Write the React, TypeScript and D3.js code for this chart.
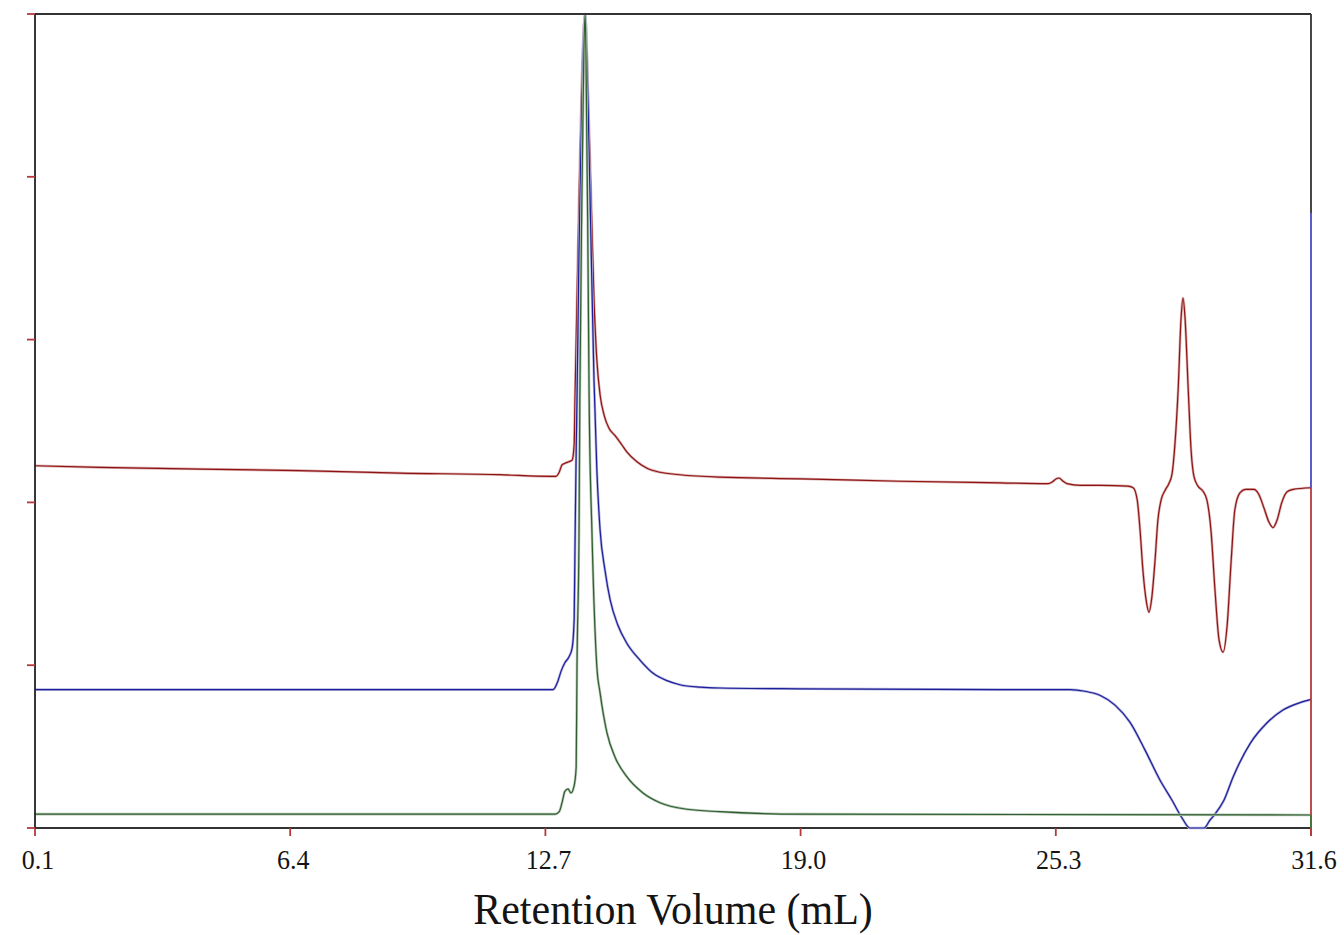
import React from "react";
import * as d3 from "d3";

// Retention volume ticks (mL)
const xTickValues = [0.1, 6.4, 12.7, 19.0, 25.3, 31.6];
const xTickLabels = ["0.1", "6.4", "12.7", "19.0", "25.3", "31.6"];
const yTickValues = [0, 20, 40, 60, 80, 100];

// Red trace (volume mL, signal)
const redVol = [0.10, 1.70, 4.17, 6.64, 9.11, 11.58, 12.81, 12.96, 13.04, 13.11, 13.18, 13.28, 13.36, 13.41, 13.43, 13.48, 13.53, 13.60, 13.68, 13.75, 13.83, 13.90, 13.97, 14.05, 14.15, 14.27, 14.42, 14.57, 14.71, 14.96, 15.21, 15.53, 16.02, 17.01, 18.99, 21.45, 23.92, 25.11, 25.21, 25.31, 25.38, 25.48, 25.58, 25.90, 26.39, 27.08, 27.21, 27.31, 27.38, 27.45, 27.53, 27.60, 27.67, 27.75, 27.82, 27.90, 28.00, 28.09, 28.17, 28.24, 28.32, 28.39, 28.44, 28.49, 28.57, 28.64, 28.71, 28.81, 28.93, 29.03, 29.13, 29.23, 29.33, 29.43, 29.53, 29.63, 29.72, 29.85, 29.99, 30.19, 30.31, 30.44, 30.56, 30.66, 30.76, 30.88, 31.01, 31.16, 31.60];
const redSig = [44.5, 44.3, 44.1, 43.9, 43.6, 43.4, 43.2, 43.2, 43.7, 44.6, 44.8, 45.0, 45.2, 47.1, 52.6, 64.9, 77.1, 91.9, 100, 90.7, 77.1, 64.9, 57.5, 53.2, 50.7, 49.1, 48.2, 47.2, 46.2, 45.0, 44.2, 43.7, 43.4, 43.1, 42.9, 42.6, 42.4, 42.3, 42.5, 42.9, 43.0, 42.6, 42.3, 42.1, 42.1, 42.0, 41.8, 40.3, 36.6, 31.7, 28.0, 26.5, 28.3, 32.9, 37.8, 40.3, 41.5, 42.3, 43.5, 47.1, 53.8, 62.4, 65.1, 62.7, 53.8, 46.4, 43.2, 42.0, 41.4, 40.3, 36.6, 29.2, 23.1, 21.6, 24.9, 32.9, 39.1, 41.2, 41.6, 41.6, 41.0, 39.3, 37.6, 36.9, 37.8, 40.0, 41.3, 41.6, 41.8];

// Blue trace
const blueVol = [0.10, 6.64, 12.89, 12.99, 13.09, 13.18, 13.28, 13.36, 13.41, 13.43, 13.46, 13.48, 13.53, 13.60, 13.68, 13.75, 13.83, 13.90, 13.97, 14.05, 14.17, 14.30, 14.49, 14.71, 15.04, 15.36, 15.70, 16.02, 16.52, 17.01, 18.99, 23.92, 25.65, 26.02, 26.39, 26.76, 27.13, 27.50, 27.87, 28.17, 28.42, 28.61, 28.79, 28.96, 29.11, 29.23, 29.45, 29.68, 30.10, 30.51, 30.91, 31.33, 31.60];
const blueSig = [17.0, 17.0, 17.0, 17.8, 19.3, 20.3, 21.0, 22.1, 25.6, 34.2, 46.4, 52.6, 71.0, 89.4, 100, 89.4, 71.0, 55.0, 44.0, 36.6, 31.7, 28.0, 24.9, 22.7, 20.6, 19.0, 18.1, 17.6, 17.3, 17.2, 17.1, 17.0, 17.0, 16.8, 16.3, 15.1, 13.0, 9.6, 5.9, 3.4, 1.2, -0.2, -0.7, -0.2, 1.0, 1.7, 3.4, 6.3, 10.4, 12.9, 14.5, 15.4, 15.8];

// Green trace
const greenVol = [0.10, 12.94, 13.04, 13.11, 13.18, 13.26, 13.33, 13.41, 13.46, 13.48, 13.53, 13.55, 13.60, 13.65, 13.68, 13.70, 13.75, 13.78, 13.85, 13.97, 14.05, 14.22, 14.42, 14.71, 15.11, 15.53, 16.20, 17.01, 18.99, 31.60];
const greenSig = [1.7, 1.7, 2.0, 3.1, 4.5, 4.8, 4.3, 5.2, 7.5, 19.8, 36.2, 52.6, 77.1, 95.6, 100, 95.6, 71.0, 52.6, 36.2, 19.8, 16.6, 11.7, 8.7, 6.3, 4.3, 3.1, 2.3, 2.0, 1.7, 1.6];

const W = 1344;
const H = 935;
const M = { left: 35, top: 14, right: 1311, bottom: 828 };

export default function App() {
  const x = d3.scaleLinear().domain([0.1, 31.6]).range([M.left, M.right]);
  const y = d3.scaleLinear().domain([0, 100]).range([M.bottom, M.top]);
  const yc = y.copy().clamp(true);

  const line = d3
    .line<[number, number]>()
    .x((d) => x(d[0]))
    .y((d) => yc(d[1]))
    .curve(d3.curveMonotoneX);

  const zip = (a: number[], b: number[]) => a.map((v, i) => [v, b[i]] as [number, number]);

  const series = [
    { data: zip(redVol, redSig), color: "#8e1414", halo: "#dcb0b0" },
    { data: zip(blueVol, blueSig), color: "#1e1e98", halo: "#b2b4de" },
    { data: zip(greenVol, greenSig), color: "#2f5f2f", halo: "#b6c6b6" },
  ];

  const font = "'Liberation Serif', 'Times New Roman', serif";

  return (
    <svg
      width={W}
      height={H}
      style={{ position: "absolute", left: 0, top: 0, background: "#fff" }}
    >
      <rect x={0} y={0} width={W} height={H} fill="#fff" />

      {/* frame (under traces) */}
      <line x1={M.left} x2={M.right} y1={M.bottom} y2={M.bottom} stroke="#333" strokeWidth={1.8} />

      <g>
        {series.map((s, i) => (
          <g key={i}>
            <path d={line(s.data) || ""} fill="none" stroke={s.halo} strokeWidth={2.6} strokeLinejoin="round" />
            <path d={line(s.data) || ""} fill="none" stroke={s.color} strokeWidth={1.2} strokeLinejoin="round" />
          </g>
        ))}
      </g>

      <line x1={M.left} x2={M.right} y1={M.top} y2={M.top} stroke="#333" strokeWidth={1.8} />
      <line x1={M.left} x2={M.left} y1={M.top} y2={M.bottom} stroke="#222" strokeWidth={1.8} />
      <line x1={M.right} x2={M.right} y1={M.top} y2={213} stroke="#333" strokeWidth={1.8} />
      <line x1={M.right} x2={M.right} y1={213} y2={488} stroke="#4a4ac4" strokeWidth={1.8} />
      <line x1={M.right} x2={M.right} y1={488} y2={M.bottom + 8} stroke="#b43a3a" strokeWidth={1.8} />
      <line x1={M.right} x2={M.right} y1={y(1.6)} y2={M.bottom} stroke="#3a7a3a" strokeWidth={1.8} />

      {/* left ticks */}
      {yTickValues.map((v) => (
        <line key={v} x1={M.left - 8} x2={M.left} y1={y(v)} y2={y(v)} stroke="#b43a3a" strokeWidth={1.8} />
      ))}

      {/* bottom ticks */}
      {xTickValues.map((v, i) => (
        <g key={v}>
          <line x1={x(v)} x2={x(v)} y1={M.bottom} y2={M.bottom + 8} stroke="#b43a3a" strokeWidth={1.8} />
          <text
            transform={`translate(${x(v) + 3},869) scale(1,1.08)`}
            textAnchor="middle"
            fontFamily={font}
            fontSize={26}
            fill="#141414"
          >
            {xTickLabels[i]}
          </text>
        </g>
      ))}

      <text
        transform={`translate(673,924) scale(1,1.06)`}
        textAnchor="middle"
        fontFamily={font}
        fontSize={42}
        fill="#141414"
      >
        Retention Volume (mL)
      </text>
    </svg>
  );
}
